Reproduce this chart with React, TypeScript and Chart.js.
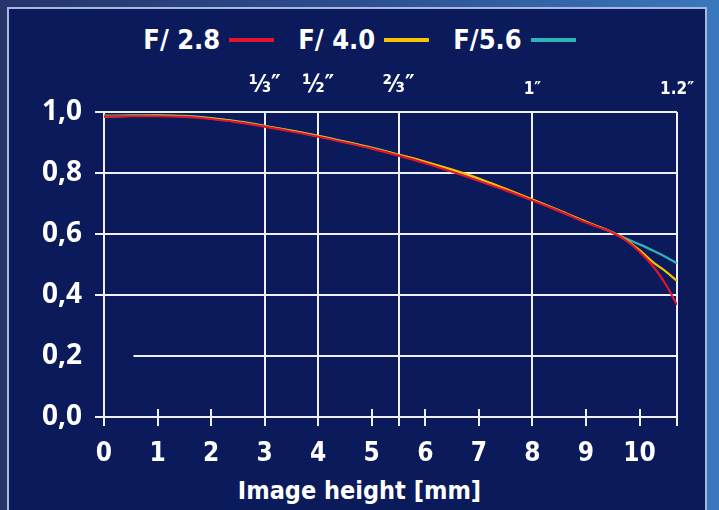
import React, { useEffect, useRef } from "react";
import { Chart, registerables } from "chart.js";

Chart.register(...registerables);

const imageHeights = [0, 0.5, 1, 1.5, 2, 2.5, 3, 3.5, 4, 4.5, 5, 5.5, 6, 6.5, 7, 7.5, 8, 8.5, 9, 9.5, 9.75, 10, 10.25, 10.5, 10.7];
const f28 = [0.985, 0.986, 0.986, 0.984, 0.977, 0.966, 0.952, 0.936, 0.919, 0.9, 0.88, 0.857, 0.832, 0.804, 0.774, 0.743, 0.71, 0.675, 0.638, 0.604, 0.578, 0.542, 0.495, 0.432, 0.367];
const f40 = [0.985, 0.987, 0.988, 0.986, 0.979, 0.968, 0.954, 0.938, 0.921, 0.902, 0.882, 0.86, 0.837, 0.811, 0.782, 0.748, 0.713, 0.677, 0.64, 0.605, 0.581, 0.547, 0.508, 0.476, 0.446];
const f56 = [0.988, 0.989, 0.989, 0.987, 0.98, 0.969, 0.955, 0.939, 0.922, 0.903, 0.883, 0.86, 0.836, 0.809, 0.779, 0.746, 0.712, 0.677, 0.64, 0.605, 0.585, 0.566, 0.546, 0.524, 0.504];

const seriesNames = ["F/ 2.8", "F/ 4.0", "F/5.6"];
const seriesColors = ["#e2142c", "#f7c200", "#2fb4b8"];
const xTitle = "Image height [mm]";

const xTicks = [0, 1, 2, 3, 4, 5, 6, 7, 8, 9, 10];
const yTicks = [0, 0.2, 0.4, 0.6, 0.8, 1.0];
const sensorPositions = [3, 4, 5.5, 8, 10.7];
const sensorLabels = ["⅓″", "½″", "⅔″", "1″", "1.2″"];
const fullGridY = [1.0, 0.8, 0.6, 0.4];
const partialGridY = 0.2;
const partialGridStart = 0.55;
const xMax = 10.7;

const narrow = '"Liberation Sans Narrow", "DejaVu Sans Condensed", sans-serif';
const wide = '"Open Sans", "Noto Sans", sans-serif';

const gridPlugin = {
  id: "customGrid",
  beforeDatasetsDraw(chart: any) {
    const { ctx, chartArea, scales } = chart;
    const x = scales.x;
    const y = scales.y;
    ctx.save();
    ctx.strokeStyle = "#eef0f6";
    ctx.lineWidth = 2;
    ctx.lineCap = "butt";
    const line = (x1: number, y1: number, x2: number, y2: number) => {
      ctx.beginPath();
      ctx.moveTo(x1, y1);
      ctx.lineTo(x2, y2);
      ctx.stroke();
    };
    const yBottom = y.getPixelForValue(0);
    fullGridY.forEach((v) => {
      const py = Math.round(y.getPixelForValue(v));
      line(chartArea.left - 9, py, chartArea.right, py);
    });
    const pp = Math.round(y.getPixelForValue(partialGridY));
    line(x.getPixelForValue(partialGridStart), pp, chartArea.right, pp);
    line(chartArea.left - 9, Math.round(yBottom), chartArea.right, Math.round(yBottom));
    [0, ...sensorPositions].forEach((v) => {
      const px = Math.round(x.getPixelForValue(v));
      line(px, chartArea.top, px, yBottom + 9);
    });
    xTicks
      .filter((v) => v !== 0 && !sensorPositions.includes(v))
      .forEach((v) => {
        const px = Math.round(x.getPixelForValue(v));
        line(px, yBottom - 8, px, yBottom + 9);
      });
    ctx.restore();
  },
};

export default function App() {
  const canvasRef = useRef<HTMLCanvasElement | null>(null);

  useEffect(() => {
    const canvas = canvasRef.current;
    if (!canvas) return;
    const seriesData = [f28, f40, f56];
    const chart = new Chart(canvas, {
      type: "line",
      data: {
        datasets: seriesData.map((vals, i) => ({
          label: seriesNames[i],
          data: imageHeights.map((h, j) => ({ x: h, y: vals[j] })),
          borderColor: seriesColors[i],
          borderWidth: 2.2,
          pointRadius: 0,
          tension: 0.4,
          cubicInterpolationMode: "monotone" as const,
          fill: false,
        })),
      },
      options: {
        animation: false,
        responsive: false,
        maintainAspectRatio: false,
        layout: { padding: { left: 0, right: 42, top: 0, bottom: 0 } },
        plugins: { legend: { display: false }, tooltip: { enabled: false } },
        scales: {
          x: {
            type: "linear",
            position: "bottom",
            min: 0,
            max: xMax,
            grid: { display: false },
            border: { display: false },
            afterFit: (s: any) => {
              s.height = 93;
            },
            afterBuildTicks: (s: any) => {
              s.ticks = xTicks.map((v) => ({ value: v }));
            },
            ticks: {
              color: "#ffffff",
              padding: 14,
              maxRotation: 0,
              autoSkip: false,
              font: { family: narrow, size: 26, weight: "bold" },
              callback: (v: any) => String(v),
            },
          },
          x2: {
            type: "linear",
            position: "top",
            min: 0,
            max: xMax,
            grid: { display: false },
            border: { display: false },
            afterFit: (s: any) => {
              s.height = 112;
            },
            afterBuildTicks: (s: any) => {
              s.ticks = sensorPositions.map((v) => ({ value: v }));
            },
            ticks: {
              color: "#ffffff",
              padding: 4,
              maxRotation: 0,
              autoSkip: false,
              font: (c: any) => {
                const i = c.tick ? sensorPositions.indexOf(c.tick.value) : -1;
                return { family: narrow, size: i >= 0 && i < 3 ? 24 : 17, weight: "bold" };
              },
              callback: (v: any) => {
                const i = sensorPositions.indexOf(Number(v));
                return i >= 0 ? sensorLabels[i] : "";
              },
            },
          },
          y: {
            type: "linear",
            min: 0,
            max: 1,
            grid: { display: false },
            border: { display: false },
            afterFit: (s: any) => {
              s.width = 104;
            },
            afterBuildTicks: (s: any) => {
              s.ticks = yTicks.map((v) => ({ value: v }));
            },
            ticks: {
              color: "#ffffff",
              padding: 14,
              font: { family: wide, size: 28, weight: "bold" },
              callback: (v: any) => Number(v).toFixed(1).replace(".", ","),
            },
          },
        },
      },
      plugins: [gridPlugin],
    });
    return () => chart.destroy();
  }, []);

  return (
    <div
      style={{
        position: "absolute",
        left: 0,
        top: 0,
        width: 719,
        height: 510,
        overflow: "hidden",
        background: "linear-gradient(90deg, #26346a 0%, #2c4e90 50%, #3a78bc 100%)",
      }}
    >
      <div
        style={{
          position: "absolute",
          left: 7,
          top: 7,
          width: 700,
          height: 520,
          boxSizing: "border-box",
          border: "2px solid #a7b7df",
          background: "#0b1a5b",
        }}
      />
      <div
        style={{
          position: "absolute",
          left: 0,
          top: 22,
          width: 719,
          display: "flex",
          justifyContent: "center",
          alignItems: "center",
          color: "#ffffff",
          fontFamily: narrow,
          fontWeight: "bold",
          fontSize: 27,
          lineHeight: "36px",
        }}
      >
        {seriesNames.map((n, i) => (
          <div key={n} style={{ display: "flex", alignItems: "center", marginLeft: i === 0 ? 0 : 24 }}>
            <span>{n}</span>
            <span
              style={{
                display: "inline-block",
                width: 45,
                height: 4,
                marginLeft: 9,
                background: seriesColors[i],
              }}
            />
          </div>
        ))}
      </div>
      <div
        style={{
          position: "absolute",
          left: 0,
          top: 476,
          width: 719,
          textAlign: "center",
          color: "#ffffff",
          fontFamily: narrow,
          fontWeight: "bold",
          fontSize: 25,
          lineHeight: "30px",
        }}
      >
        {xTitle}
      </div>
      <canvas
        ref={canvasRef}
        width={719}
        height={510}
        style={{ position: "absolute", left: 0, top: 0, width: 719, height: 510 }}
      />
    </div>
  );
}
